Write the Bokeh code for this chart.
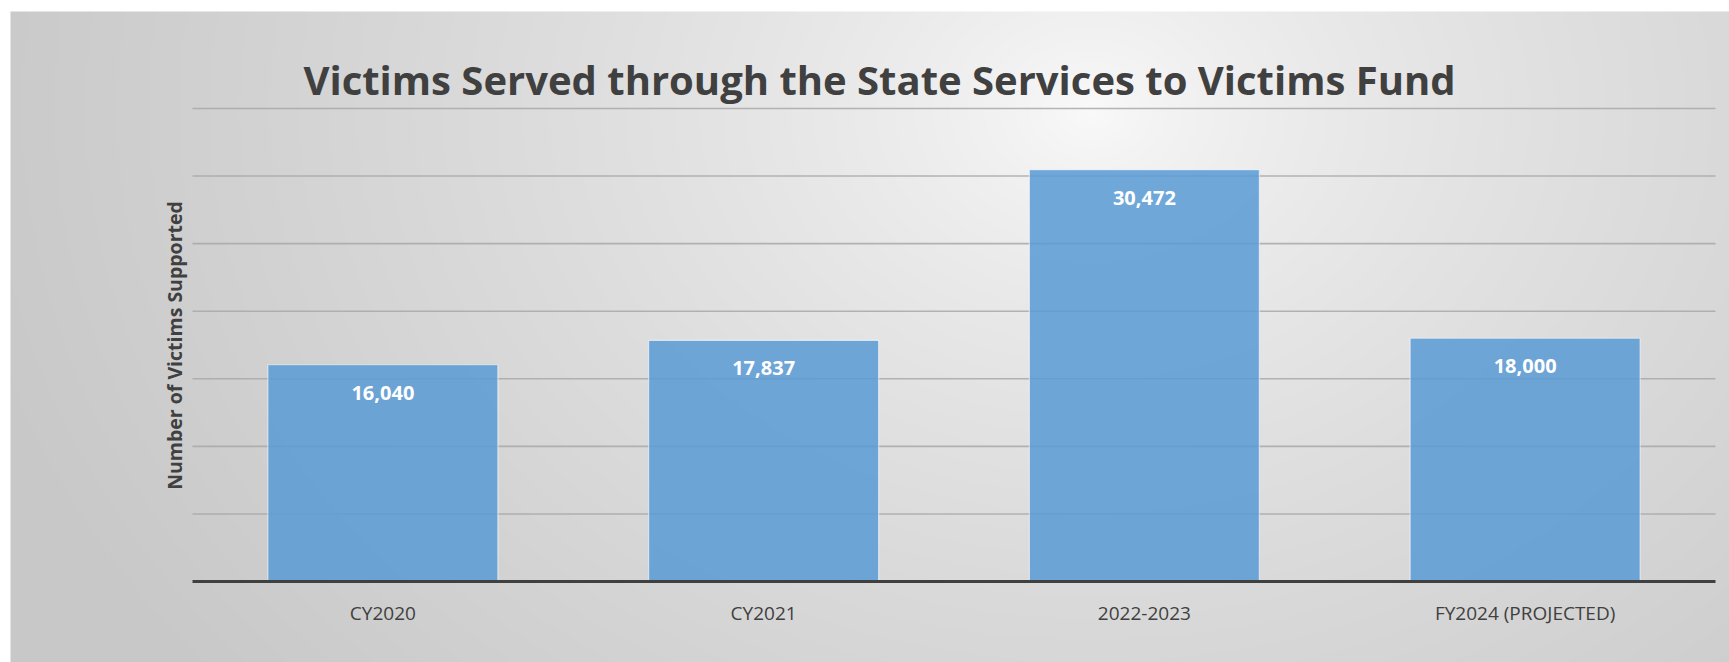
import numpy as np
from bokeh.plotting import figure
from bokeh.models import Range1d, LinearAxis, FixedTicker, Label, ColumnDataSource
from bokeh.embed import file_html
from bokeh.resources import INLINE
from bokeh.core.properties import value

# ---- data ----
categories = ["CY2020", "CY2021", "2022-2023", "FY2024 (PROJECTED)"]
victims = [16040, 17837, 30472, 18000]
y_ticks = [0, 5000, 10000, 15000, 20000, 25000, 30000, 35000]
title_text = "Victims Served through the State Services to Victims Fund"
y_label_text = "Number of Victims Supported"

# ---- layout (canvas pixels) ----
W, H = 1729, 662
plot_left, plot_right = 192, 1715
plot_top, plot_bottom = 108, 581
panel_left, panel_top = 10, 11
y_max = y_ticks[-1]
n = len(categories)
upp_x = n / (plot_right - plot_left)
upp_y = y_max / (plot_bottom - plot_top)
x_start = -plot_left * upp_x
x_end = n + (W - plot_right) * upp_x
y_start = -(H - plot_bottom) * upp_y
y_end = y_max + plot_top * upp_y

FONT = "Open Sans"
DARK = "#404040"

p = figure(width=W, height=H,
           x_range=Range1d(x_start, x_end), y_range=Range1d(y_start, y_end),
           output_backend="svg", toolbar_location=None, min_border=0,
           x_axis_location=None, y_axis_location=None)
p.outline_line_color = None
p.xgrid.visible = False
p.ygrid.visible = False
p.border_fill_color = "white"
p.background_fill_color = "white"

# ---- background gradient (panel area only) ----
pw, ph = W - panel_left, H - panel_top
h_img, w_img = ph // 2, pw // 2
sx = panel_left + (np.arange(w_img) + 0.5) * pw / w_img
sy = H - (np.arange(h_img) + 0.5) * ph / h_img
PX, PY = np.meshgrid(sx, sy)
d = np.sqrt(((PX - 1090) / 1150.0) ** 2 + ((PY - 110) / 900.0) ** 2)
d = np.clip(d, 0, 1)
v = np.round(250 - 50 * d ** 0.7).astype(np.uint8)
img = np.empty((h_img, w_img), dtype=np.uint32)
view = img.view(dtype=np.uint8).reshape((h_img, w_img, 4))
view[..., 0] = v
view[..., 1] = v
view[..., 2] = v
view[..., 3] = 255
p.image_rgba(image=[img], x=x_start + panel_left * upp_x, y=y_start,
             dw=pw * upp_x, dh=ph * upp_y)

# ---- gridlines ----
gy = y_ticks[1:]
p.segment(x0=[0] * len(gy), x1=[n] * len(gy), y0=gy, y1=gy,
          line_color="#a8a8a8", line_width=1.6, line_alpha=0.85)

# ---- bars ----
xs = [i + 0.5 for i in range(n)]
src = ColumnDataSource(dict(x=xs, top=victims, cat=categories,
                            lbl=[f"{v:,}" for v in victims]))
p.vbar(x="x", top="top", width=0.604, source=src,
       fill_color="#5b9bd5", fill_alpha=0.86,
       line_color="white", line_alpha=0.55, line_width=1.2)

p.text(x="x", y="top", text="lbl", source=src, y_offset=28,
       text_align="center", text_baseline="middle",
       text_color="white", text_font=value(FONT), text_font_style="bold",
       text_font_size="20px")

# ---- x axis ----
xaxis = LinearAxis(fixed_location=0, bounds=(0, n),
                   ticker=FixedTicker(ticks=xs),
                   major_label_overrides={x: c for x, c in zip(xs, categories)})
xaxis.axis_line_color = DARK
xaxis.axis_line_width = 3
xaxis.major_tick_in = 0
xaxis.major_tick_out = 0
xaxis.minor_tick_in = 0
xaxis.minor_tick_out = 0
xaxis.major_label_standoff = 18
xaxis.major_label_text_font = FONT
xaxis.major_label_text_font_size = "19px"
xaxis.major_label_text_color = DARK
p.add_layout(xaxis, "below")

# ---- title & y label ----
p.add_layout(Label(x=879, y=H - 79, x_units="screen", y_units="screen",
                   text=title_text, text_align="center", text_baseline="alphabetic",
                   text_font=FONT, text_font_style="bold", text_font_size="40px",
                   text_color=DARK))
p.add_layout(Label(x=174, y=H - 345, x_units="screen", y_units="screen",
                   text=y_label_text, angle=np.pi / 2,
                   text_align="center", text_baseline="middle",
                   text_font=FONT, text_font_style="bold", text_font_size="19.5px",
                   text_color=DARK))

open("out.html", "w").write(file_html(p, INLINE))
